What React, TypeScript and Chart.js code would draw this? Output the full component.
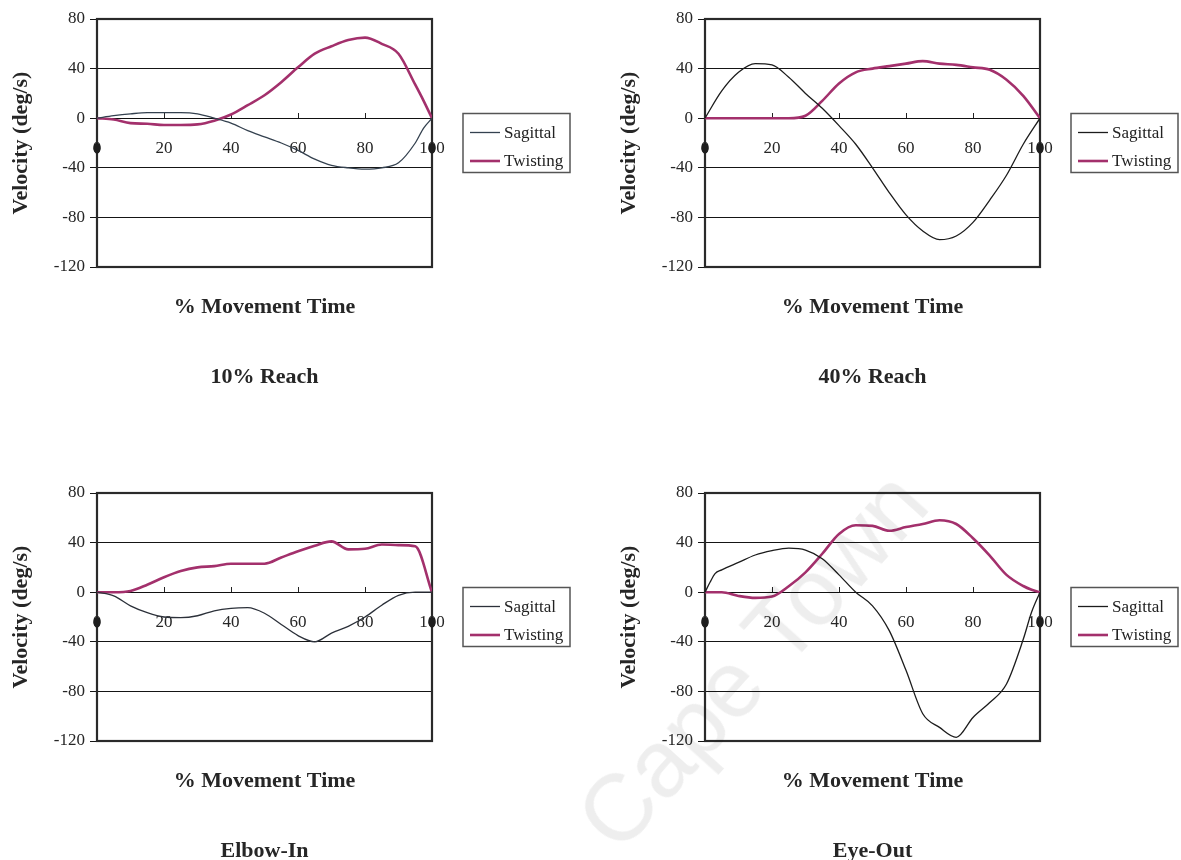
import React, { useEffect, useRef } from 'react';
import { Chart, registerables } from 'chart.js';

Chart.register(...registerables);

// ---- shared axis setup ----
const Y_MIN = -120;
const Y_MAX = 80;
const Y_STEP = 40;
const X_MIN = 0;
const X_MAX = 100;
const X_STEP = 20;

const X_TITLE = '% Movement Time';
const Y_TITLE = 'Velocity (deg/s)';
const SERIES_LABELS = ['Sagittal', 'Twisting'];

// ---- 10% Reach ----
const REACH10_X = [0, 5, 10, 15, 20, 25, 30, 35, 40, 45, 50, 55, 60, 65, 70, 75, 80, 85, 90, 95, 97.5, 100];
const REACH10_SAGITTAL = [0, 2, 3.5, 4.5, 4.5, 4.5, 3.5, 0, -4, -10, -15, -20, -26, -33, -38, -40, -41, -40, -36, -20, -8, 0];
const REACH10_TWISTING = [0, -1, -4, -4.5, -5.5, -5.5, -5, -2, 3, 10.5, 18.5, 29, 41, 52, 58, 63, 65, 60, 52, 27, 14, 0];

// ---- 40% Reach ----
const REACH40_X = [0, 5, 10, 15, 20, 25, 30, 35, 40, 45, 50, 55, 60, 65, 70, 75, 80, 85, 90, 95, 100];
const REACH40_SAGITTAL = [0, 22, 37, 44, 43, 33, 20, 8, -6, -21, -40, -60, -78, -91, -98, -95, -84, -66, -46, -21, 0];
const REACH40_TWISTING = [0, 0, 0, 0, 0, 0, 2, 14, 28, 37, 40, 42, 44, 46, 44, 43, 41, 39, 31, 18, 0];

// ---- Elbow-In ----
const ELBOW_X = [0, 5, 10, 15, 20, 25, 30, 35, 40, 45, 50, 55, 60, 65, 70, 75, 80, 85, 90, 95, 100];
const ELBOW_SAGITTAL = [0, -3, -11, -16.5, -20, -20.5, -19, -15, -13, -12.5, -17, -26, -35, -40, -33, -27.5, -20, -10.5, -2.5, 0, 0];
const ELBOW_TWISTING = [0, 0, 1, 6, 12, 17, 20, 21, 23, 23, 23, 28, 33, 37.5, 41, 34.5, 35, 38.5, 38, 37, 0];

// ---- Eye-Out ----
const EYE_X = [0, 1.5, 3, 5, 10, 15, 20, 25, 30, 35, 40, 45, 50, 55, 60, 65, 70, 75, 80, 85, 90, 95, 97.5, 100];
const EYE_SAGITTAL = [0, 8, 15, 18, 24, 30, 33.5, 35.5, 34, 27, 14, 0, -11, -31, -63, -98, -109, -117, -101, -89, -74, -38, -16, 0];
const EYE_TWISTING = [0, 0, 0, 0, -3, -4.6, -3.5, 4.8, 16, 31, 47, 54, 53.5, 49.5, 52.5, 55, 58, 55, 43.5, 29.5, 14, 5, 2, 0];

const SERIF = "'Liberation Serif', 'Times New Roman', serif";
const INK = '#262626';
const TWIST_COLOR = '#a3306c';

const CANVAS_W = 573;
const CANVAS_H = 430;

// heavy frame round the plot area
const plotFrame = {
  id: 'plotFrame',
  beforeDatasetsDraw(chart: any) {
    const { ctx, chartArea } = chart;
    ctx.save();
    ctx.strokeStyle = '#2a2a2a';
    ctx.lineWidth = 2.2;
    ctx.strokeRect(chartArea.left, chartArea.top, chartArea.right - chartArea.left, chartArea.bottom - chartArea.top);
    ctx.restore();
  },
};

// boxed legend to the right of the plot
const boxedLegend = {
  id: 'boxedLegend',
  afterDraw(chart: any) {
    const { ctx, chartArea } = chart;
    const w = 107;
    const h = 59;
    const left = chartArea.right + 31;
    const top = (chartArea.top + chartArea.bottom) / 2 - h / 2;
    ctx.save();
    ctx.strokeStyle = '#555';
    ctx.lineWidth = 1.5;
    ctx.strokeRect(left, top, w, h);
    chart.data.datasets.forEach((ds: any, i: number) => {
      const y = top + 19 + i * 28.5;
      ctx.strokeStyle = ds.borderColor;
      ctx.lineWidth = ds.borderWidth;
      ctx.beginPath();
      ctx.moveTo(left + 7, y);
      ctx.lineTo(left + 37, y);
      ctx.stroke();
      ctx.fillStyle = '#222';
      ctx.font = `17px ${SERIF}`;
      ctx.textBaseline = 'middle';
      ctx.textAlign = 'left';
      ctx.fillText(ds.label, left + 41, y + 1);
    });
    ctx.restore();
  },
};

// dark blobs where the side borders cross the x tick-label row
const edgeMarks = {
  id: 'edgeMarks',
  afterDraw(chart: any) {
    const { ctx, chartArea, scales } = chart;
    const y = scales.y.getPixelForValue(0) + 30;
    ctx.save();
    ctx.fillStyle = '#1e1e1e';
    [chartArea.left, chartArea.right].forEach((x: number) => {
      ctx.beginPath();
      ctx.ellipse(x, y, 3.5, 5.5, 0, 0, Math.PI * 2);
      ctx.fill();
    });
    ctx.restore();
  },
};

type PanelProps = {
  left: number;
  top: number;
  title: string;
  xs: number[];
  sagittal: number[];
  twisting: number[];
  sagittalColor: string;
};

function Panel({ left, top, title, xs, sagittal, twisting, sagittalColor }: PanelProps) {
  const ref = useRef<HTMLCanvasElement>(null);

  useEffect(() => {
    const tickFont = { family: SERIF, size: 17 };
    const titleFont = { family: SERIF, size: 22, weight: 'bold' as const, lineHeight: 1.2 };
    const chart = new Chart(ref.current as HTMLCanvasElement, {
      type: 'line',
      data: {
        datasets: [
          {
            label: SERIES_LABELS[0],
            data: xs.map((x, i) => ({ x, y: sagittal[i] })),
            borderColor: sagittalColor,
            borderWidth: 1.3,
            pointRadius: 0,
            fill: false,
            cubicInterpolationMode: 'monotone',
          },
          {
            label: SERIES_LABELS[1],
            data: xs.map((x, i) => ({ x, y: twisting[i] })),
            borderColor: TWIST_COLOR,
            borderWidth: 2.6,
            pointRadius: 0,
            fill: false,
            cubicInterpolationMode: 'monotone',
          },
        ],
      },
      options: {
        responsive: false,
        maintainAspectRatio: false,
        animation: false,
        events: [],
        layout: { padding: { left: 4, top: 19, right: 141, bottom: 39.8 } },
        plugins: {
          legend: { display: false },
          tooltip: { enabled: false },
          subtitle: {
            display: true,
            text: X_TITLE,
            position: 'bottom',
            fullSize: false,
            color: INK,
            font: titleFont,
            padding: { top: 26.8, bottom: 0 },
          },
          title: {
            display: true,
            text: title,
            position: 'bottom',
            fullSize: false,
            color: INK,
            font: titleFont,
            padding: { top: 43.6, bottom: 0 },
          },
        },
        scales: {
          x: {
            type: 'linear',
            min: X_MIN,
            max: X_MAX,
            position: { y: 0 },
            ticks: { stepSize: X_STEP, font: tickFont, color: INK, padding: 25.8, maxRotation: 0, autoSkip: false },
            grid: { drawOnChartArea: false, drawTicks: true, tickLength: -6, color: '#222', lineWidth: 1 },
            border: { display: true, color: '#111', width: 1 },
          },
          y: {
            type: 'linear',
            position: 'left',
            min: Y_MIN,
            max: Y_MAX,
            ticks: { stepSize: Y_STEP, font: tickFont, color: INK, padding: 5 },
            grid: { color: '#151515', lineWidth: 1, tickLength: 7 },
            border: { display: true, color: '#2a2a2a', width: 2 },
            title: { display: true, text: Y_TITLE, color: INK, font: titleFont, padding: { top: 3.8, bottom: 0 } },
            afterFit: (scale: any) => {
              scale.width = 93;
            },
          },
        },
      } as any,
      plugins: [plotFrame, boxedLegend, edgeMarks],
    });
    return () => chart.destroy();
  }, []);

  return (
    <canvas
      ref={ref}
      width={CANVAS_W}
      height={CANVAS_H}
      style={{ position: 'absolute', left, top, width: CANVAS_W, height: CANVAS_H }}
    />
  );
}

export default function App() {
  return (
    <div
      style={{
        position: 'fixed',
        left: 0,
        top: 0,
        width: 1181,
        height: 860,
        overflow: 'hidden',
        background: '#fff',
      }}
    >
      <Panel left={0} top={0} title="10% Reach" xs={REACH10_X} sagittal={REACH10_SAGITTAL} twisting={REACH10_TWISTING} sagittalColor="#34414f" />
      <Panel left={608} top={0} title="40% Reach" xs={REACH40_X} sagittal={REACH40_SAGITTAL} twisting={REACH40_TWISTING} sagittalColor="#1c1c1c" />
      <Panel left={0} top={474} title="Elbow-In" xs={ELBOW_X} sagittal={ELBOW_SAGITTAL} twisting={ELBOW_TWISTING} sagittalColor="#2c313a" />
      <Panel left={608} top={474} title="Eye-Out" xs={EYE_X} sagittal={EYE_SAGITTAL} twisting={EYE_TWISTING} sagittalColor="#1c1c1c" />
      <div
        style={{
          position: 'absolute',
          left: 752,
          top: 660,
          transform: 'translate(-50%, -50%) rotate(-48deg)',
          fontFamily: "'Liberation Sans', Arial, sans-serif",
          fontSize: 94,
          color: '#eeeeee',
          whiteSpace: 'nowrap',
          mixBlendMode: 'multiply',
          pointerEvents: 'none',
          lineHeight: 1,
        }}
      >
        Cape Town
      </div>
    </div>
  );
}
